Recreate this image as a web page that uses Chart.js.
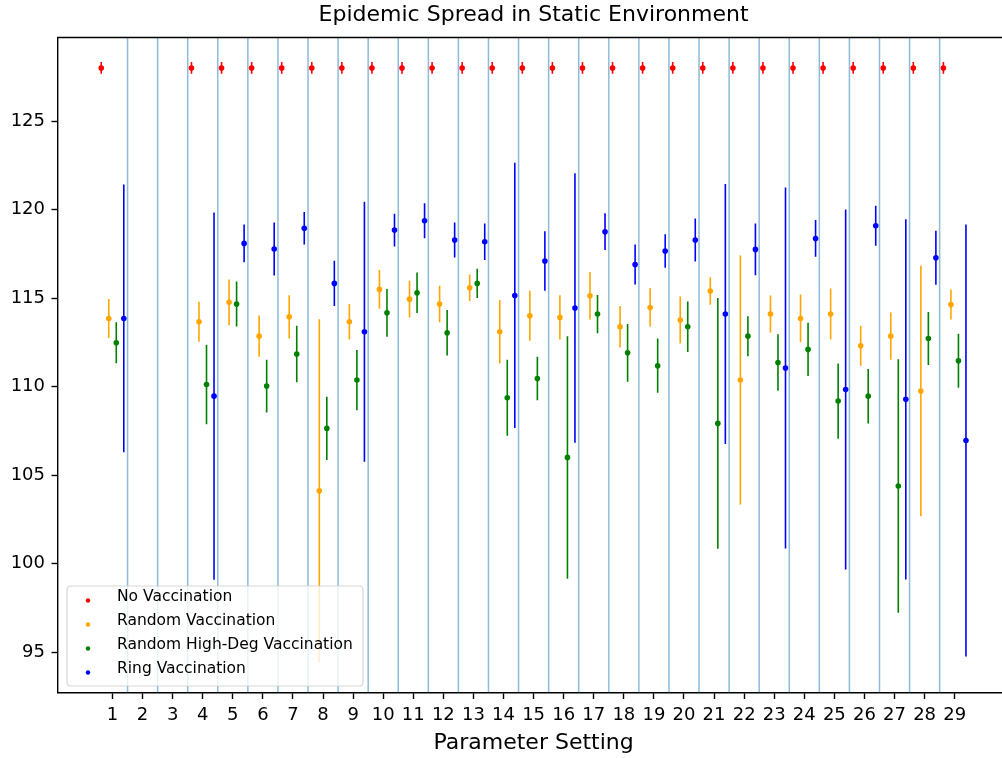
<!DOCTYPE html>
<html>
<head>
<meta charset="utf-8">
<script src="https://cdn.jsdelivr.net/npm/chart.js@4.4.0/dist/chart.umd.min.js"></script>
<style>
html,body{margin:0;padding:0;background:#fff;overflow:hidden;width:1002px;height:758px}
canvas{display:block}
</style>
</head>
<body>
<canvas id="c" width="1012" height="758"></canvas>
<script>
// ---------------- data ----------------
const categories = [1,2,3,4,5,6,7,8,9,10,11,12,13,14,15,16,17,18,19,20,21,22,23,24,25,26,27,28,29];
const separators = [1.5,2.5,3.5,4.5,5.5,6.5,7.5,8.5,9.5,10.5,11.5,12.5,13.5,14.5,15.5,16.5,17.5,18.5,19.5,20.5,21.5,22.5,23.5,24.5,25.5,26.5,27.5,28.5];
const yTicks = [95,100,105,110,115,120,125];
const seriesNames = ['No Vaccination','Random Vaccination','Random High-Deg Vaccination','Ring Vaccination'];

const noVaxMean = [128,null,null,128,128,128,128,128,128,128,128,128,128,128,128,128,128,128,128,128,128,128,128,128,128,128,128,128,128];
const noVaxErr  = [0.33,null,null,0.33,0.33,0.33,0.33,0.33,0.33,0.33,0.33,0.33,0.33,0.33,0.33,0.33,0.33,0.33,0.33,0.33,0.33,0.33,0.33,0.33,0.33,0.33,0.33,0.33,0.33];

const randomMean = [113.85,null,null,113.66,114.76,112.85,113.94,104.11,113.66,115.49,114.94,114.66,115.58,113.10,114.00,113.91,115.13,113.38,114.47,113.76,115.40,110.37,114.10,113.85,114.10,112.31,112.85,109.75,114.64];
const randomErr  = [1.10,null,null,1.13,1.29,1.16,1.22,9.70,1.00,1.09,1.04,1.03,0.75,1.79,1.41,1.25,1.34,1.17,1.08,1.33,0.78,7.03,1.04,1.35,1.44,1.13,1.34,7.07,0.85];

const highDegMean = [112.48,null,null,110.12,114.66,110.03,111.84,107.64,110.37,114.17,115.30,113.04,115.83,109.37,110.46,106.00,114.10,111.91,111.18,113.38,107.92,112.85,111.36,112.10,109.18,109.46,104.38,112.72,111.46];
const highDegErr  = [1.16,null,null,2.24,1.27,1.49,1.60,1.78,1.70,1.35,1.14,1.29,0.82,2.15,1.23,6.85,1.08,1.63,1.53,1.42,7.08,1.13,1.60,1.50,2.13,1.54,7.16,1.50,1.53];

const ringMean = [113.85,null,null,109.46,118.09,117.77,118.94,115.83,113.10,118.84,119.37,118.28,118.18,115.15,117.09,114.44,118.75,116.90,117.66,118.28,114.10,117.75,111.05,118.37,109.84,119.09,109.28,117.28,106.95];
const ringErr  = [7.56,null,null,10.37,1.06,1.50,0.92,1.28,7.34,0.92,0.99,0.99,1.03,7.49,1.68,7.61,1.04,1.13,0.94,1.22,7.34,1.46,10.20,1.04,10.17,1.13,10.17,1.53,12.20];

// ---------------- build ----------------
const seriesMeans = [noVaxMean, randomMean, highDegMean, ringMean];
const seriesErrs = [noVaxErr, randomErr, highDegErr, ringErr];
const seriesColors = ['#ff0000', '#ffa500', '#008000', '#0000ff'];
const groupWidth = 0.25;

const datasets = seriesNames.map((name, i) => {
  const off = (i - 1.5) * groupWidth;
  const pts = [];
  categories.forEach((c, j) => {
    const m = seriesMeans[i][j];
    if (m !== null) pts.push({x: c + off, y: m, err: seriesErrs[i][j]});
  });
  return {
    label: name,
    data: pts,
    backgroundColor: seriesColors[i],
    borderColor: seriesColors[i],
    pointRadius: 2.8,
    pointHoverRadius: 2.8,
    pointBorderWidth: 0,
    showLine: false,
    order: 4 - i
  };
});

const FONT = 'DejaVu Sans';

const separatorPlugin = {
  id: 'separators',
  beforeDatasetsDraw(chart) {
    const {ctx, chartArea: a, scales: {x}} = chart;
    ctx.save();
    ctx.strokeStyle = 'rgba(31,119,180,0.5)';
    ctx.lineWidth = 1.5;
    separators.forEach(s => {
      const px = x.getPixelForValue(s);
      ctx.beginPath();
      ctx.moveTo(px, a.top);
      ctx.lineTo(px, a.bottom);
      ctx.stroke();
    });
    ctx.restore();
  }
};

const errorBarPlugin = {
  id: 'errorbars',
  beforeDatasetDraw(chart, args) {
    const {ctx, chartArea: a, scales: {x, y}} = chart;
    const ds = chart.data.datasets[args.index];
    ctx.save();
    ctx.beginPath();
    ctx.rect(a.left, a.top, a.right - a.left, a.bottom - a.top);
    ctx.clip();
    ctx.strokeStyle = ds.borderColor;
    ctx.lineWidth = 1.6;
    ds.data.forEach(p => {
      const px = x.getPixelForValue(p.x);
      ctx.beginPath();
      ctx.moveTo(px, y.getPixelForValue(p.y - p.err));
      ctx.lineTo(px, y.getPixelForValue(p.y + p.err));
      ctx.stroke();
    });
    ctx.restore();
  }
};

const framePlugin = {
  id: 'frame',
  afterDraw(chart) {
    const {ctx, chartArea: a} = chart;
    ctx.save();
    ctx.strokeStyle = '#000';
    ctx.lineWidth = 1.4;
    ctx.beginPath();
    ctx.moveTo(a.left - 0.7, a.top);
    ctx.lineTo(a.right, a.top);
    ctx.moveTo(a.right, a.top);
    ctx.lineTo(a.right, a.bottom);
    ctx.stroke();
    ctx.restore();
  }
};

const legendPlugin = {
  id: 'customLegend',
  afterDraw(chart) {
    const {ctx, chartArea: a} = chart;
    const bx = a.left + 9, by = a.bottom - 106.5, bw = 296, bh = 100, r = 4;
    ctx.save();
    ctx.beginPath();
    ctx.moveTo(bx + r, by);
    ctx.lineTo(bx + bw - r, by);
    ctx.quadraticCurveTo(bx + bw, by, bx + bw, by + r);
    ctx.lineTo(bx + bw, by + bh - r);
    ctx.quadraticCurveTo(bx + bw, by + bh, bx + bw - r, by + bh);
    ctx.lineTo(bx + r, by + bh);
    ctx.quadraticCurveTo(bx, by + bh, bx, by + bh - r);
    ctx.lineTo(bx, by + r);
    ctx.quadraticCurveTo(bx, by, bx + r, by);
    ctx.closePath();
    ctx.fillStyle = 'rgba(255,255,255,0.8)';
    ctx.fill();
    ctx.strokeStyle = 'rgba(204,204,204,0.8)';
    ctx.lineWidth = 1.2;
    ctx.stroke();
    ctx.font = '15.5px "' + FONT + '"';
    ctx.textBaseline = 'middle';
    ctx.textAlign = 'left';
    chart.data.datasets.forEach((ds, i) => {
      const cy = by + 11 + i * 24;
      ctx.fillStyle = ds.backgroundColor;
      ctx.beginPath();
      ctx.arc(bx + 21, cy + 3.5, 2.2, 0, Math.PI * 2);
      ctx.fill();
      ctx.fillStyle = '#000';
      ctx.fillText(ds.label, bx + 50, cy);
    });
    ctx.restore();
  }
};

new Chart(document.getElementById('c'), {
  type: 'scatter',
  data: {datasets},
  plugins: [separatorPlugin, errorBarPlugin, framePlugin, legendPlugin],
  options: {
    responsive: false,
    animation: false,
    events: [],
    layout: {padding: 0},
    plugins: {
      legend: {display: false},
      tooltip: {enabled: false},
      title: {
        display: true,
        fullSize: false,
        text: 'Epidemic Spread in Static Environment',
        color: '#000',
        font: {family: FONT, size: 22, weight: 'normal', lineHeight: 1.2},
        padding: {top: 1.8, bottom: 9.3}
      }
    },
    scales: {
      x: {
        type: 'linear',
        min: -0.8125,
        max: 30.8125,
        afterBuildTicks: s => { s.ticks = categories.map(v => ({value: v})); },
        afterFit: s => { s.height = 65.5; },
        ticks: {
          autoSkip: false,
          maxRotation: 0,
          color: '#000',
          padding: 6,
          font: {family: FONT, size: 18},
          callback: v => String(v)
        },
        grid: {display: true, drawOnChartArea: false, drawTicks: true, tickLength: 6.5, tickWidth: 1.4, tickColor: '#000'},
        border: {display: true, color: '#000', width: 1.4},
        title: {
          display: true,
          text: 'Parameter Setting',
          color: '#000',
          font: {family: FONT, size: 22, lineHeight: 1.2},
          padding: {top: 0, bottom: 1.8}
        }
      },
      y: {
        type: 'linear',
        min: 92.72,
        max: 129.72,
        afterBuildTicks: s => { s.ticks = yTicks.map(v => ({value: v})); },
        afterFit: s => { s.width = 58; },
        ticks: {
          color: '#000',
          padding: 6.5,
          font: {family: FONT, size: 18},
          callback: v => String(v)
        },
        grid: {display: true, drawOnChartArea: false, drawTicks: true, tickLength: 6.5, tickWidth: 1.4, tickColor: '#000'},
        border: {display: true, color: '#000', width: 1.4}
      }
    }
  }
});
</script>
</body>
</html>
